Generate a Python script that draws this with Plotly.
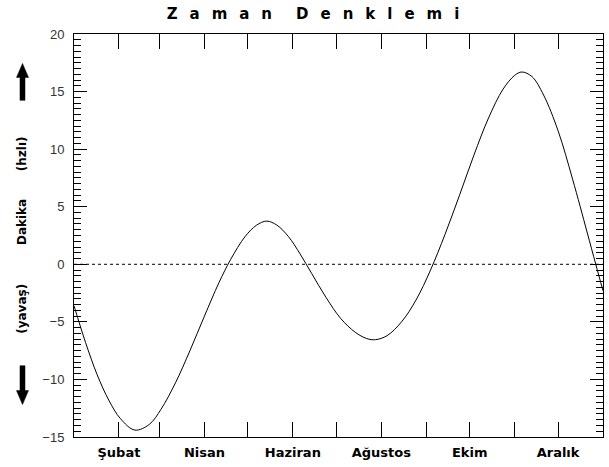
import plotly.graph_objects as go

# Day of year (0 = 1 Ocak) and equation-of-time value in minutes
days = [0, 8, 16, 24, 32, 42, 52, 60, 70, 80, 90, 100, 108, 118, 126, 133, 140,
        148, 156, 164, 174, 184, 194, 202, 208, 216, 226, 236, 246, 256, 266,
        276, 286, 296, 304, 309, 316, 324, 334, 344, 354, 360, 365]
minutes = [-3.6, -6.8, -9.6, -11.8, -13.4, -14.4, -13.9, -12.6, -10.3, -7.5, -4.5,
           -1.6, 0.4, 2.4, 3.4, 3.75, 3.4, 2.4, 0.9, -0.8, -2.9, -4.7, -5.9, -6.45,
           -6.55, -6.2, -5.0, -3.1, -0.5, 2.6, 6.0, 9.5, 12.7, 15.2, 16.4, 16.7,
           16.3, 14.7, 11.6, 7.4, 2.8, 0.0, -2.3]

month_starts = [31, 59, 90, 120, 151, 181, 212, 243, 273, 304, 334]
month_labels = ["Şubat", "", "Nisan", "", "Haziran", "", "Ağustos", "", "Ekim", "", "Aralık"]

title_words = ["Zaman", "Denklemi"]
y_title_parts = ["(yavaş)", "Dakika", "(hzlı)"]

gap = "\u2002\u2009\u200a"
title_text = (gap * 2).join(gap.join(w) for w in title_words)

W, H = 609, 467
L, R, T, B = 74, 6, 33.5, 29.5
pw, ph = W - L - R, H - T - B


def px(x):
    return (x - L) / pw


def py(y):
    return (H - B - y) / ph


fig = go.Figure()
fig.add_trace(go.Scatter(x=days, y=minutes, mode="lines", line=dict(color="black", width=1, shape="spline"),
                         showlegend=False, hoverinfo="skip"))
fig.add_trace(go.Scatter(x=[0, 365], y=[0, 0], mode="lines", line=dict(color="black", width=1, dash="dot"),
                         showlegend=False, hoverinfo="skip"))

tick_font = dict(family="Liberation Sans, Arial, sans-serif", size=13, color="#333")
lab_font = dict(family="DejaVu Sans, Verdana, sans-serif", size=12, color="black", weight="bold")

fig.update_xaxes(range=[0, 365], tickmode="array", tickvals=month_starts, ticktext=month_labels,
                 ticks="inside", ticklen=15, tickwidth=1, tickcolor="black",
                 showline=True, linecolor="black", linewidth=1, mirror="ticks",
                 showgrid=False, zeroline=False, automargin=False, ticklabelstandoff=3,
                 tickfont=dict(family="DejaVu Sans, Verdana, sans-serif", size=13, color="black", weight="bold"))
fig.update_yaxes(range=[-15, 20], tickmode="linear", tick0=0, dtick=5,
                 ticks="inside", ticklen=13, tickwidth=1, tickcolor="black",
                 showline=True, linecolor="black", linewidth=1, mirror="ticks",
                 showgrid=False, zeroline=False, tickfont=tick_font, automargin=False,
                 ticklabelstandoff=6,
                 minor=dict(dtick=0.5, ticks="inside", ticklen=7, tickcolor="black", showgrid=False))

annotations = []
for text, yc in zip(y_title_parts, [309, 222, 154]):
    annotations.append(dict(text=text, xref="paper", yref="paper", x=px(22), y=py(yc),
                            showarrow=False, textangle=-90, font=lab_font,
                            xanchor="center", yanchor="middle"))

shapes = []
cx = 22.5
up = [(cx - 2.5, 100), (cx - 2.5, 77), (cx - 6, 77), (cx, 63), (cx + 6, 77), (cx + 2.5, 77), (cx + 2.5, 100)]
down = [(cx - 2.5, 366), (cx - 2.5, 391), (cx - 6, 391), (cx, 405), (cx + 6, 391), (cx + 2.5, 391), (cx + 2.5, 366)]
for poly in (up, down):
    path = "M " + " L ".join(f"{px(a):.5f},{py(b):.5f}" for a, b in poly) + " Z"
    shapes.append(dict(type="path", xref="paper", yref="paper", path=path,
                       fillcolor="black", line=dict(color="black", width=0.5)))

fig.update_layout(
    width=W, height=H,
    margin=dict(l=L, r=R, t=T, b=B, autoexpand=False),
    paper_bgcolor="white", plot_bgcolor="white",
    title=dict(text=title_text, x=313 / W, xanchor="center", y=1 - 14 / H, yanchor="middle",
               font=dict(family="DejaVu Sans, Verdana, sans-serif", size=15, color="black", weight="bold")),
    annotations=annotations, shapes=shapes,
)

fig.write_html("out.html", config={"displayModeBar": False},
               post_script="document.body.style.margin='0';document.body.style.overflow='hidden';")
